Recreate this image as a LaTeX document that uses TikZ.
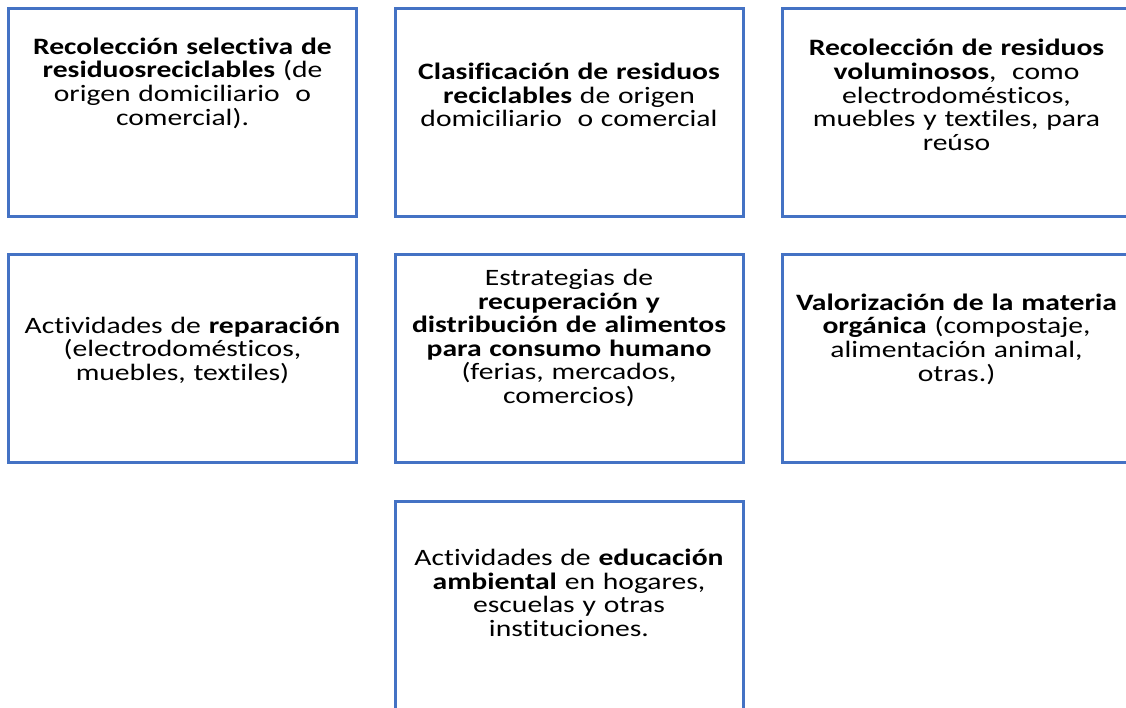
\documentclass[tikz,border=0pt]{standalone}
\usepackage{fontspec}
\setmainfont{Carlito}[FakeStretch=1.26,WordSpace=0.8,Ligatures=NoCommon]
\usetikzlibrary{positioning}
\definecolor{myblue}{RGB}{68,114,196}
\definecolor{mywhite}{RGB}{255,255,255}

\begin{document}
\begin{tikzpicture}[
  x=1pt, y=-1pt,
  mybox/.style={
    draw=myblue,
    line width=3pt,
    fill=mywhite,
    rectangle,
    minimum width=348pt,
    minimum height=208pt,
    inner sep=0pt
    },
  mytext/.style={
    align=center,
    text width=360pt,
    inner sep=0pt,
    font=\fontsize{23.5}{23.6}\selectfont
  }
]
\useasboundingbox (0,0) rectangle (1126,707);
\clip (0,0) rectangle (1126,707);

\node[mybox] (box1) at (182.5,112) {};
\node[mybox] (box2) at (569,112) {};
\node[mybox] (box3) at (956.5,112) {};
\node[mybox] (box4) at (182.5,358) {};
\node[mybox] (box5) at (569,358) {};
\node[mybox] (box6) at (956.5,358) {};
\node[mybox] (box7) at (569,605.5) {};

\node[mytext] (text1) at (182.5,83)
  {\textbf{Recolección selectiva de}\\
   \textbf{residuosreciclables} (de\\
   origen domiciliario \ o\\
   comercial).};
\node[mytext] (text2) at (569,95)
  {\textbf{Clasificación de residuos}\\
   \textbf{reciclables} de origen\\
   domiciliario \ o comercial};
\node[mytext] (text3) at (956.5,95)
  {\textbf{Recolección de residuos}\\
   \textbf{voluminosos}, \ como\\
   electrodomésticos,\\
   muebles y textiles, para\\
   reúso};
\node[mytext] (text4) at (182.5,350)
  {Actividades de \textbf{reparación}\\
   (electrodomésticos,\\
   muebles, textiles)};
\node[mytext] (text5) at (569,338)
  {Estrategias de\\
   \textbf{recuperación y}\\
   \textbf{distribución de alimentos}\\
   \textbf{para consumo humano}\\
   (ferias, mercados,\\
   comercios)};
\node[mytext] (text6) at (956.5,339)
  {\textbf{Valorización de la materia}\\
   \textbf{orgánica} (compostaje,\\
   alimentación animal,\\
   otras.)};
\node[mytext] (text7) at (569,593)
  {Actividades de \textbf{educación}\\
   \textbf{ambiental} en hogares,\\
   escuelas y otras\\
   instituciones.};

\end{tikzpicture}
\end{document}
